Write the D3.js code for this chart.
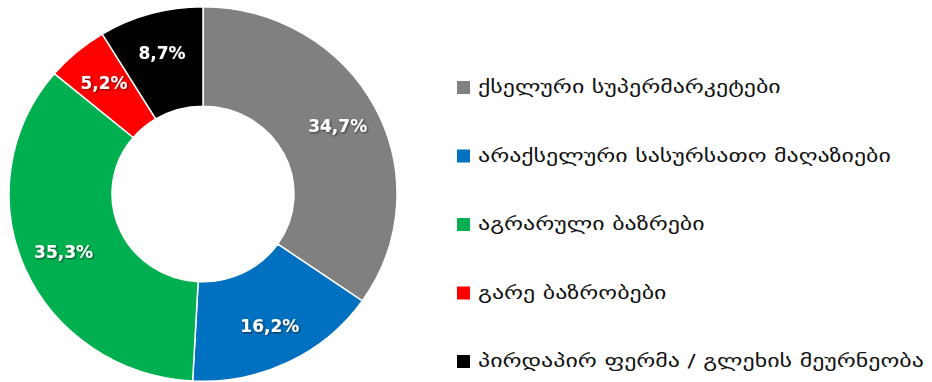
<!doctype html>
<html>
<head>
    <meta charset="utf-8">
    <title>donut</title>
    <script src="https://d3js.org/d3.v7.min.js"></script>
</head>

<style>
    body { margin: 0; background: #fff; }
    .pct { font: bold 17px "DejaVu Sans", sans-serif; fill: #fff; }
    .legend { font: 18px "DejaVu Sans", sans-serif; fill: #111; }
</style>

<body>

    <script>

    // chart data
    var categories = [
        'ქსელური სუპერმარკეტები',
        'არაქსელური სასურსათო მაღაზიები',
        'აგრარული ბაზრები',
        'გარე ბაზრობები',
        'პირდაპირ ფერმა / გლეხის მეურნეობა'
    ];
    var shares = [34.7, 16.2, 35.3, 5.2, 8.7];
    var labels = ['34,7%', '16,2%', '35,3%', '5,2%', '8,7%'];
    var colors = ['#808080', '#0070C0', '#00B050', '#FF0000', '#000000'];

    // canvas
    var width = 932;
    var height = 382;

    var svg = d3.select('body')
                .append('svg')
                .attr('width', width)
                .attr('height', height);

    // soft shadow behind the percentage labels
    var shadow = svg.append('defs')
                .append('filter')
                .attr('id', 'shadow')
                .attr('x', '-20%').attr('y', '-20%')
                .attr('width', '140%').attr('height', '140%');
    shadow.append('feDropShadow')
                .attr('dx', 1).attr('dy', 1)
                .attr('stdDeviation', 0.8)
                .attr('flood-color', '#000')
                .attr('flood-opacity', 0.6);

    // donut, slightly squashed vertically like the original picture
    var outerR = 194;
    var innerR = 91;
    var squash = 0.965;
    var donut = svg.append('g')
                .attr('transform', 'translate(203, 194) scale(1, ' + squash + ')');

    var pie = d3.pie().sort(null).value(function(d) { return d; });
    var arcs = pie(shares);

    var arc = d3.arc().innerRadius(innerR).outerRadius(outerR);
    var labelArc = d3.arc().innerRadius(152).outerRadius(152);

    donut.selectAll('path')
        .data(arcs)
        .enter()
        .append('path')
        .attr('d', arc)
        .attr('fill', function(d, i) { return colors[i]; })
        .attr('stroke', '#fff')
        .attr('stroke-width', 1.5);

    // percentage labels
    donut.selectAll('text')
        .data(arcs)
        .enter()
        .append('text')
        .attr('class', 'pct')
        .attr('filter', 'url(#shadow)')
        .attr('transform', function(d) {
            var c = labelArc.centroid(d);
            return 'translate(' + c[0] + ',' + c[1] + ') scale(1, ' + (1 / squash) + ')';
        })
        .attr('text-anchor', 'middle')
        .attr('dy', '0.35em')
        .text(function(d, i) { return labels[i]; });

    // legend
    var yLegend = d3.scalePoint()
                .domain(categories)
                .range([88, 362]);

    var legend = svg.append('g');
    var rows = legend.selectAll('g')
        .data(categories)
        .enter()
        .append('g')
        .attr('transform', function(d) { return 'translate(457,' + yLegend(d) + ')'; });

    rows.append('rect')
        .attr('x', 0)
        .attr('y', -7)
        .attr('width', 13)
        .attr('height', 13)
        .attr('fill', function(d, i) { return colors[i]; });

    // the original Georgian face is much wider, so stretch the text sideways
    rows.append('text')
        .attr('class', 'legend')
        .attr('transform', 'translate(21, 0) scale(1.33, 1)')
        .attr('dy', '0.3em')
        .text(function(d) { return d; });

    </script>

</body>
</html>
